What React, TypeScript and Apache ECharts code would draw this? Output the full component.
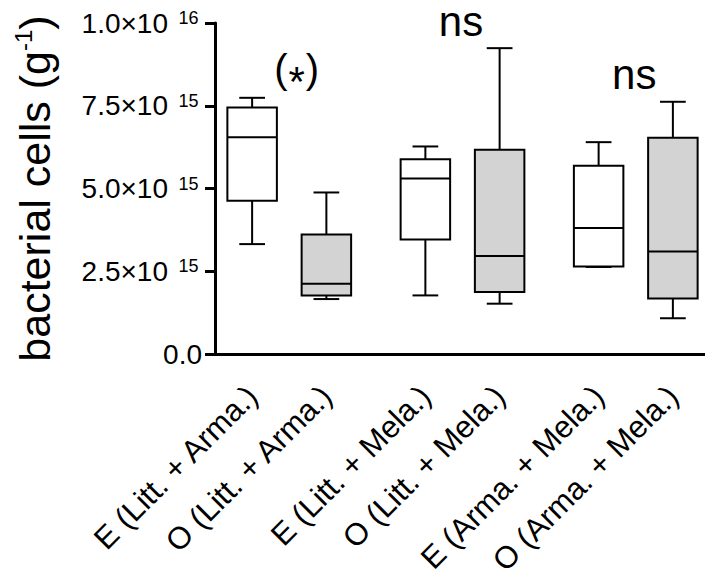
import React, { useEffect, useRef } from "react";
import * as echarts from "echarts";

// ---- data (values in units of 10^15 cells per g) ----
const categories = [
  "E (Litt. + Arma.)",
  "O (Litt. + Arma.)",
  "E (Litt. + Mela.)",
  "O (Litt. + Mela.)",
  "E (Arma. + Mela.)",
  "O (Arma. + Mela.)",
];
const whiskerLow = [3.32, 1.66, 1.77, 1.52, 2.63, 1.08];
const quartile1 = [4.63, 1.77, 3.46, 1.87, 2.64, 1.68];
const medians = [6.55, 2.12, 5.3, 2.96, 3.81, 3.1];
const quartile3 = [7.45, 3.61, 5.88, 6.17, 5.69, 6.53];
const whiskerHigh = [7.74, 4.88, 6.27, 9.24, 6.4, 7.62];
const groupType = ["E", "O", "E", "O", "E", "O"];

const yTickMantissa = ["0.0", "2.5", "5.0", "7.5", "1.0"];
const yTickExponent = ["", "15", "15", "15", "16"];

const annotationTexts = ["(*)", "ns", "ns"];
const annotationPairs = [[0, 1], [2, 3], [4, 5]];
const annotationFrac = [0.6, 0.48, 0.48];
const annotationY = [8.62, 10.05, 8.43];

// ---- layout ----
const SCALE = 1e15;
const slotCount = 20;
const slotIndex = [1, 4, 8, 11, 15, 18];
const FONT = "'Liberation Sans', Arial, Helvetica, sans-serif";

export default function App() {
  const ref = useRef<HTMLDivElement>(null);
  useEffect(() => {
    if (!ref.current) return;
    const chart = echarts.init(ref.current, null, { renderer: "svg" });
    const slots = Array.from({ length: slotCount }, (_, i) => String(i));
    const slotToLabel: Record<number, string> = {};
    slotIndex.forEach((s, i) => (slotToLabel[s] = categories[i]));
    const isLabeled = (i: number) => slotToLabel[i] !== undefined;

    const boxData = categories.map((_, i) => [
      slotIndex[i],
      whiskerLow[i] * SCALE,
      quartile1[i] * SCALE,
      medians[i] * SCALE,
      quartile3[i] * SCALE,
      whiskerHigh[i] * SCALE,
    ]);
    const annData = annotationTexts.map((_, i) => [
      slotIndex[annotationPairs[i][0]],
      slotIndex[annotationPairs[i][1]],
      annotationFrac[i],
      annotationY[i] * SCALE,
    ]);

    const option: any = {
      animation: false,
      grid: { left: 215, top: 23, width: 495, height: 331, containLabel: false, outerBoundsMode: "none" },
      xAxis: {
        type: "category",
        data: slots,
        boundaryGap: true,
        axisLine: { lineStyle: { color: "#000", width: 3 } },
        axisTick: {
          alignWithLabel: true,
          interval: (i: number) => isLabeled(i),
          length: 10,
          lineStyle: { color: "#000", width: 3 },
        },
        axisLabel: {
          interval: (i: number) => isLabeled(i),
          rotate: 45,
          margin: 37,
          fontSize: 31,
          fontFamily: FONT,
          color: "#000",
          formatter: (_v: string, i: number) => slotToLabel[i] ?? "",
        },
        splitLine: { show: false },
      },
      yAxis: {
        type: "value",
        min: 0,
        max: 1e16,
        interval: 2.5e15,
        name: "bacterial cells (g{b|-1})",
        nameLocation: "middle",
        nameRotate: 90,
        nameGap: 156,
        nameTextStyle: {
          fontSize: 43,
          fontFamily: FONT,
          color: "#000",
          lineHeight: 48,
          rich: {
            b: { fontSize: 24, fontFamily: FONT, color: "#000", lineHeight: 26, verticalAlign: "top" },
          },
        },
        axisLine: { show: true, lineStyle: { color: "#000", width: 3 } },
        axisTick: { show: true, length: 10, lineStyle: { color: "#000", width: 3 } },
        splitLine: { show: false },
        axisLabel: {
          margin: 13,
          fontSize: 28,
          lineHeight: 28,
          fontFamily: FONT,
          color: "#000",
          formatter: (v: number) => {
            const i = Math.round(v / 2.5e15);
            const m = yTickMantissa[i];
            const e = yTickExponent[i];
            return e ? `${m}×10{b|${e}}` : m;
          },
          rich: {
            b: {
              fontSize: 18,
              fontFamily: FONT,
              color: "#000",
              lineHeight: 18,
              verticalAlign: "top",
              width: 27,
              align: "center",
              padding: [0, 0, 0, 7],
            },
          },
        },
      },
      series: [
        {
          type: "custom",
          clip: false,
          encode: { x: 0, y: [1, 2, 3, 4, 5] },
          data: boxData,
          renderItem: (params: any, api: any) => {
            const s = api.value(0);
            const lo = api.coord([s, api.value(1)]);
            const q1 = api.coord([s, api.value(2)]);
            const md = api.coord([s, api.value(3)]);
            const q3 = api.coord([s, api.value(4)]);
            const hi = api.coord([s, api.value(5)]);
            const band = api.size([1, 0])[0];
            const bw = band * 2;
            const cw = band * 1.04;
            const cx = md[0];
            const fill = groupType[params.dataIndex] === "O" ? "#d3d3d3" : "#ffffff";
            const st = { stroke: "#000", lineWidth: 2 };
            const line = (x1: number, y1: number, x2: number, y2: number) => ({
              type: "line",
              shape: { x1, y1, x2, y2 },
              style: st,
            });
            return {
              type: "group",
              children: [
                line(cx, hi[1], cx, q3[1]),
                line(cx - cw / 2, hi[1], cx + cw / 2, hi[1]),
                line(cx, q1[1], cx, lo[1]),
                line(cx - cw / 2, lo[1], cx + cw / 2, lo[1]),
                {
                  type: "rect",
                  shape: { x: cx - bw / 2, y: q3[1], width: bw, height: q1[1] - q3[1] },
                  style: { fill, stroke: "#000", lineWidth: 2 },
                },
                line(cx - bw / 2, md[1], cx + bw / 2, md[1]),
              ],
            };
          },
        },
        {
          type: "custom",
          clip: false,
          encode: { x: 0, y: 3 },
          data: annData,
          renderItem: (params: any, api: any) => {
            const a = api.coord([api.value(0), api.value(3)]);
            const b = api.coord([api.value(1), api.value(3)]);
            const x = a[0] + (b[0] - a[0]) * api.value(2);
            const txt = annotationTexts[params.dataIndex];
            const isStar = txt.indexOf("*") >= 0;
            const text = isStar ? "{p|(}{s|*}{p|)}" : txt;
            return {
              type: "text",
              x,
              y: a[1],
              style: {
                text,
                fontSize: isStar ? 40 : 42,
                fontFamily: FONT,
                fill: "#000",
                align: "center",
                verticalAlign: "middle",
                rich: {
                  p: { fontSize: 40, fontFamily: FONT, fill: "#000", lineHeight: 44, height: 44, verticalAlign: "top" },
                  s: { fontSize: 42, fontFamily: FONT, fill: "#000", lineHeight: 44, height: 44, verticalAlign: "top", padding: [13, 1, 0, 1] },
                },
              },
            };
          },
        },
      ],
    };
    chart.setOption(option);
    return () => chart.dispose();
  }, []);
  return (
    <div
      ref={ref}
      style={{ position: "absolute", left: 0, top: 0, width: 705, height: 569, background: "#fff" }}
    />
  );
}
